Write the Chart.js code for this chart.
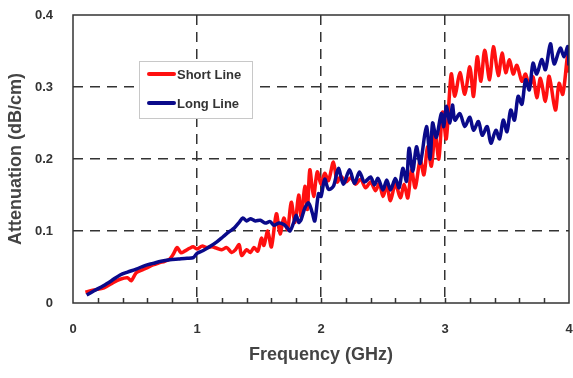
<!DOCTYPE html>
<html>
<head>
<meta charset="utf-8">
<script src="https://cdn.jsdelivr.net/npm/chart.js@4"></script>
<style>
  html, body { margin: 0; padding: 0; background: #fff; }
  #wrap { width: 573px; height: 378px; position: relative; }
</style>
</head>
<body>
<div id="wrap"><canvas id="myChart" width="573" height="378"></canvas></div>
<script>
// Short Line (red)
const freqShort = [0.10, 0.17, 0.25, 0.32, 0.38, 0.44, 0.47, 0.51, 0.56, 0.60, 0.645, 0.70, 0.74, 0.78, 0.81, 0.84, 0.87, 0.90, 0.94, 0.97,
  1.00, 1.04, 1.08, 1.12, 1.16, 1.20, 1.24, 1.28, 1.31, 1.34, 1.36, 1.40, 1.43, 1.46, 1.49, 1.52, 1.54, 1.57, 1.60, 1.64,
  1.67, 1.70, 1.73, 1.76, 1.79, 1.82, 1.84, 1.87, 1.89, 1.91, 1.94, 1.97, 2.00, 2.03, 2.06, 2.10, 2.13, 2.16, 2.20, 2.24,
  2.28, 2.32, 2.36, 2.40, 2.44, 2.47, 2.50, 2.53, 2.56, 2.60, 2.64, 2.67, 2.70, 2.73, 2.76, 2.80, 2.83, 2.86, 2.89, 2.92,
  2.95, 2.98, 3.01, 3.05, 3.08, 3.12, 3.16, 3.20, 3.23, 3.26, 3.29, 3.32, 3.36, 3.39, 3.43, 3.46, 3.49, 3.52, 3.55, 3.58,
  3.62, 3.65, 3.68, 3.71, 3.74, 3.77, 3.81, 3.84, 3.89, 3.92, 3.95, 3.99, 4.00];
const attShort = [0.015, 0.018, 0.021, 0.028, 0.033, 0.035, 0.031, 0.042, 0.046, 0.049, 0.053, 0.056, 0.058, 0.061, 0.068, 0.077, 0.070, 0.072, 0.076, 0.078,
  0.075, 0.079, 0.077, 0.078, 0.076, 0.074, 0.077, 0.070, 0.074, 0.081, 0.066, 0.074, 0.070, 0.077, 0.072, 0.090, 0.080, 0.100, 0.078, 0.124,
  0.096, 0.118, 0.102, 0.140, 0.112, 0.150, 0.120, 0.162, 0.130, 0.185, 0.148, 0.182, 0.165, 0.180, 0.170, 0.196, 0.168, 0.176, 0.168, 0.174,
  0.165, 0.172, 0.160, 0.168, 0.156, 0.166, 0.148, 0.164, 0.142, 0.166, 0.146, 0.165, 0.146, 0.185, 0.160, 0.199, 0.178, 0.217, 0.190, 0.236,
  0.200, 0.265, 0.228, 0.318, 0.287, 0.320, 0.290, 0.328, 0.287, 0.342, 0.308, 0.351, 0.310, 0.356, 0.316, 0.347, 0.320, 0.338, 0.318, 0.330,
  0.308, 0.318, 0.300, 0.314, 0.285, 0.312, 0.280, 0.315, 0.268, 0.305, 0.290, 0.345, 0.320];

// Long Line (blue)
const freqLong = [0.11, 0.17, 0.245, 0.31, 0.38, 0.44, 0.51, 0.58, 0.645, 0.71, 0.78, 0.85, 0.92, 0.97, 1.00, 1.05, 1.10, 1.16, 1.21, 1.26,
  1.30, 1.34, 1.37, 1.40, 1.43, 1.47, 1.51, 1.55, 1.59, 1.62, 1.66, 1.70, 1.73, 1.75, 1.78, 1.80, 1.82, 1.84, 1.87, 1.90,
  1.93, 1.95, 1.98, 2.00, 2.03, 2.06, 2.10, 2.14, 2.18, 2.23, 2.27, 2.31, 2.35, 2.40, 2.43, 2.46, 2.50, 2.53, 2.56, 2.60,
  2.63, 2.66, 2.69, 2.71, 2.74, 2.77, 2.80, 2.85, 2.88, 2.90, 2.93, 2.97, 2.99, 3.01, 3.04, 3.06, 3.08, 3.12, 3.16, 3.20,
  3.23, 3.27, 3.30, 3.34, 3.37, 3.41, 3.44, 3.47, 3.50, 3.53, 3.56, 3.59, 3.62, 3.65, 3.68, 3.71, 3.74, 3.78, 3.81, 3.85,
  3.88, 3.93, 3.96, 3.99, 4.00];
const attLong = [0.011, 0.017, 0.024, 0.031, 0.039, 0.043, 0.047, 0.052, 0.055, 0.058, 0.060, 0.061, 0.062, 0.063, 0.069, 0.073, 0.078, 0.085, 0.092, 0.099,
  0.104, 0.112, 0.118, 0.114, 0.117, 0.114, 0.115, 0.111, 0.113, 0.108, 0.111, 0.109, 0.104, 0.100, 0.112, 0.122, 0.112, 0.116, 0.132, 0.139,
  0.125, 0.114, 0.152, 0.148, 0.172, 0.158, 0.162, 0.187, 0.165, 0.185, 0.166, 0.182, 0.168, 0.175, 0.164, 0.173, 0.157, 0.171, 0.157, 0.173,
  0.160, 0.187, 0.169, 0.215, 0.183, 0.217, 0.194, 0.245, 0.200, 0.250, 0.230, 0.263, 0.245, 0.273, 0.250, 0.275, 0.254, 0.263, 0.245, 0.258,
  0.240, 0.252, 0.233, 0.245, 0.222, 0.240, 0.228, 0.254, 0.238, 0.268, 0.254, 0.287, 0.276, 0.310, 0.296, 0.333, 0.318, 0.338, 0.324, 0.360,
  0.332, 0.354, 0.342, 0.356, 0.330];

const seriesNames = ["Short Line", "Long Line"];
const seriesColors = ["#ff1010", "#0a0a8a"];

const FONT = "'Liberation Sans', Arial, sans-serif";
const isWhole = (v) => Math.abs(v - Math.round(v)) < 1e-6;

const toPoints = (xs, ys) => xs.map((x, i) => ({ x: x, y: ys[i] }));

// frame, inward minor ticks and the legend box
const decorPlugin = {
  id: "decor",
  afterDatasetsDraw(chart) {
    const { ctx, chartArea: a } = chart;
    const xs = chart.scales.x;
    ctx.save();
    ctx.strokeStyle = "#333";
    ctx.lineWidth = 1.5;
    xs.ticks.forEach((t) => {
      if (t.value <= 0 || t.value >= 4) return;
      const px = Math.round(xs.getPixelForValue(t.value)) + 0.5;
      ctx.beginPath();
      ctx.moveTo(px, a.bottom);
      ctx.lineTo(px, a.bottom - 5);
      ctx.stroke();
    });
    ctx.strokeRect(a.left, a.top, a.right - a.left, a.bottom - a.top);

    // legend
    const bx = 139, by = 61, bw = 113, bh = 57;
    ctx.fillStyle = "#fff";
    ctx.fillRect(bx, by, bw, bh);
    ctx.strokeStyle = "#c8c8c8";
    ctx.lineWidth = 1;
    ctx.strokeRect(bx + 0.5, by + 0.5, bw, bh);
    ctx.font = "bold 13px " + FONT;
    ctx.textBaseline = "middle";
    chart.data.datasets.forEach((ds, i) => {
      const ly = by + 13 + i * 29;
      ctx.strokeStyle = ds.borderColor;
      ctx.lineWidth = 4;
      ctx.lineCap = "round";
      ctx.beginPath();
      ctx.moveTo(149, ly);
      ctx.lineTo(174, ly);
      ctx.stroke();
      ctx.fillStyle = "#333";
      ctx.fillText(ds.label, 177, ly + 1);
    });
    ctx.restore();
  },
};

new Chart(document.getElementById("myChart"), {
  type: "line",
  data: {
    datasets: [
      {
        label: seriesNames[0],
        data: toPoints(freqShort, attShort),
        borderColor: seriesColors[0],
        borderWidth: 3.5,
        pointRadius: 0,
        tension: 0.3,
        order: 1,
      },
      {
        label: seriesNames[1],
        data: toPoints(freqLong, attLong),
        borderColor: seriesColors[1],
        borderWidth: 3.5,
        pointRadius: 0,
        tension: 0.3,
        order: 0,
      },
    ],
  },
  options: {
    responsive: false,
    animation: false,
    layout: { padding: { top: 15, right: 4, left: 0, bottom: 0 } },
    plugins: { legend: { display: false }, tooltip: { enabled: false } },
    scales: {
      x: {
        type: "linear",
        min: 0,
        max: 4,
        afterFit: (s) => {
          s.height = 75;
          s.paddingLeft = 0;
          s.paddingRight = 0;
        },
        ticks: {
          stepSize: 0.2,
          autoSkip: false,
          maxRotation: 0,
          padding: 19,
          color: "#333",
          font: { family: FONT, size: 13, weight: "bold" },
          callback: (v) => (isWhole(v) ? Math.round(v) : ""),
        },
        grid: {
          drawTicks: false,
          lineWidth: 1.5,
          color: (c) => (c.tick && isWhole(c.tick.value) && c.tick.value > 0 && c.tick.value < 4 ? "#333" : "rgba(0,0,0,0)"),
        },
        border: { display: false, dash: [10, 7] },
        title: {
          display: true,
          text: "Frequency (GHz)",
          color: "#444",
          font: { family: FONT, size: 18, weight: "bold" },
          padding: { top: 6, bottom: 12 },
        },
      },
      y: {
        min: 0,
        max: 0.4,
        afterFit: (s) => {
          s.width = 73;
          s.paddingTop = 0;
          s.paddingBottom = 0;
        },
        ticks: {
          stepSize: 0.1,
          padding: 20,
          color: "#333",
          font: { family: FONT, size: 13, weight: "bold" },
          callback: (v) => (Math.abs(v) < 1e-9 ? "0" : Number(v.toFixed(1)).toString()),
        },
        grid: {
          drawTicks: false,
          lineWidth: 1.5,
          color: (c) => (c.tick && c.tick.value > 0.05 && c.tick.value < 0.35 ? "#333" : "rgba(0,0,0,0)"),
        },
        border: { display: false, dash: [10, 7] },
        title: {
          display: true,
          text: "Attenuation (dB/cm)",
          color: "#444",
          font: { family: FONT, size: 18, weight: "bold" },
          padding: { top: 5, bottom: 0 },
        },
      },
    },
  },
  plugins: [decorPlugin],
});
</script>
</body>
</html>
